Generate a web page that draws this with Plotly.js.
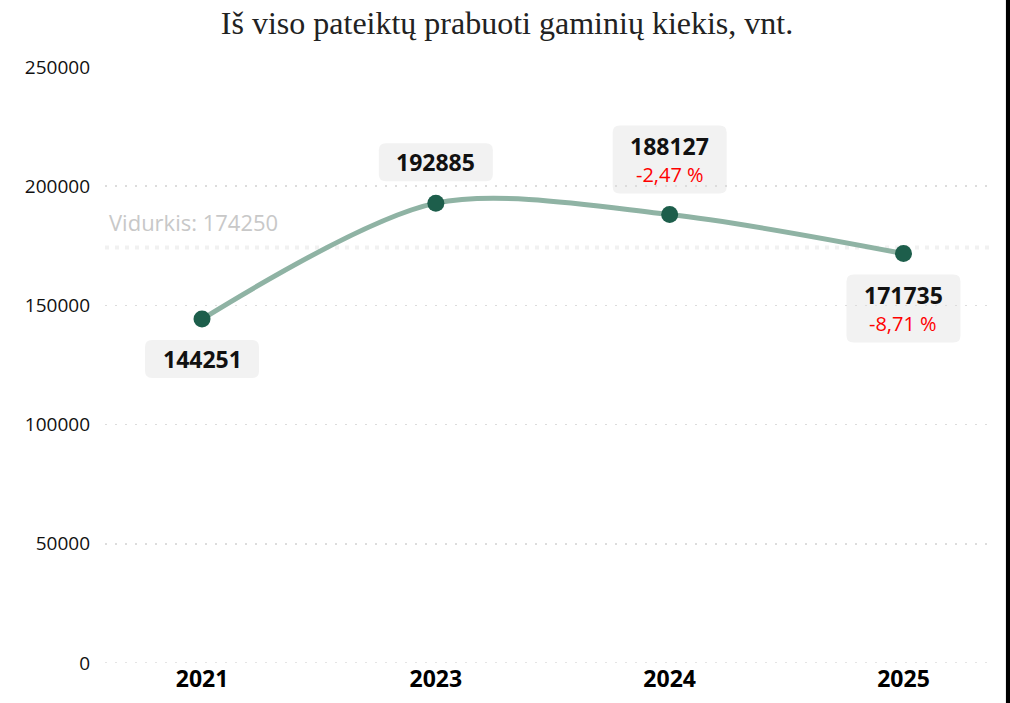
<!DOCTYPE html>
<html>
<head>
<meta charset="utf-8">
<script src="https://cdn.plot.ly/plotly-3.0.1.min.js"></script>
<style>html,body{margin:0;padding:0;background:#fff;}#chart{width:1010px;height:703px;}</style>
</head>
<body>
<div id="chart"></div>
<script>
const categories = ['2021', '2023', '2024', '2025'];
const values = [144251, 192885, 188127, 171735];
const changes = [null, null, '-2,47 %', '-8,71 %'];
const labelBelow = [true, false, false, true];
const averageValue = 174250;
const averageLabel = 'Vidurkis: 174250';
const titleText = 'Iš viso pateiktų prabuoti gaminių kiekis, vnt.';
const yTicks = [0, 50000, 100000, 150000, 200000, 250000];

const FONT = 'Open Sans, Noto Sans, sans-serif';
const xIdx = categories.map((c, i) => i);

const traces = [{
  x: xIdx, y: values, type: 'scatter', mode: 'lines',
  line: {shape: 'spline', smoothing: 0.85, color: '#8fb3a4', width: 5},
  hoverinfo: 'skip', showlegend: false
}, {
  x: xIdx, y: values, type: 'scatter', mode: 'markers',
  marker: {size: 17, color: '#1d5e4b'},
  showlegend: false
}];

function roundRect(x0, y0, x1, y1, r) {
  return `M${x0 + r},${y0} L${x1 - r},${y0} Q${x1},${y0} ${x1},${y0 + r} L${x1},${y1 - r} Q${x1},${y1} ${x1 - r},${y1} L${x0 + r},${y1} Q${x0},${y1} ${x0},${y1 - r} L${x0},${y0 + r} Q${x0},${y0} ${x0 + r},${y0} Z`;
}

const shapes = [];
const annotations = [];

// zero gridline
shapes.push({type: 'line', xref: 'paper', x0: 0, x1: 1, yref: 'y', y0: 0, y1: 0,
  line: {color: '#dcdcdc', width: 1.5, dash: '2px,8px'}, layer: 'below'});
// average line
shapes.push({type: 'line', xref: 'paper', x0: 0, x1: 1, yref: 'y', y0: averageValue, y1: averageValue,
  line: {color: '#f1f1f1', width: 4, dash: '4px,6px'}, layer: 'below'});
annotations.push({xref: 'paper', x: 0.002, yref: 'y', y: averageValue, xanchor: 'left', yanchor: 'bottom',
  yshift: 9, text: averageLabel, showarrow: false, font: {family: FONT, size: 22, color: '#c8c8c8'}});

values.forEach((v, i) => {
  const two = changes[i] !== null;
  const h = two ? 68 : 38;
  const w = 114;
  const off = labelBelow[i] ? -(two ? 55 : 40) : (two ? 55 : 41);
  const cy = off;
  shapes.push({type: 'path', xref: 'x', yref: 'y', xsizemode: 'pixel', ysizemode: 'pixel',
    xanchor: i, yanchor: v,
    path: roundRect(-w / 2, cy - h / 2, w / 2, cy + h / 2, 7),
    fillcolor: '#f2f2f2', line: {width: 0}, layer: 'below'});
  if (two) {
    annotations.push({x: i, y: v, xref: 'x', yref: 'y', text: '<b>' + v + '</b>', showarrow: false,
      yshift: cy + 14, font: {family: FONT, size: 23, color: '#111'}});
    annotations.push({x: i, y: v, xref: 'x', yref: 'y', text: changes[i], showarrow: false,
      yshift: cy - 15, font: {family: FONT, size: 20, color: '#ff0000'}});
  } else {
    annotations.push({x: i, y: v, xref: 'x', yref: 'y', text: '<b>' + v + '</b>', showarrow: false,
      yshift: cy, font: {family: FONT, size: 23, color: '#111'}});
  }
});

// right black bar
shapes.push({type: 'rect', xref: 'paper', yref: 'paper', x0: 1.018, x1: 1.03, y0: -0.1, y1: 1.2,
  fillcolor: '#000', line: {width: 0}});

const layout = {
  width: 1010, height: 703,
  margin: {l: 105, r: 20, t: 67, b: 40},
  paper_bgcolor: '#fff', plot_bgcolor: '#fff',
  title: {text: titleText, x: 0.502, xanchor: 'center', y: 0.968, yanchor: 'middle',
    font: {family: 'Liberation Serif, Times New Roman, serif', size: 32, color: '#222'}},
  xaxis: {range: [-0.415, 3.37], tickvals: xIdx, ticktext: categories.map(c => '<b>' + c + '</b>'),
    showgrid: false, zeroline: false, showline: false, ticks: '',
    tickfont: {family: FONT, size: 23, color: '#000'}, fixedrange: true},
  yaxis: {range: [0, 250000], tickvals: yTicks, tickformat: 'd', showgrid: true,
    gridcolor: '#dcdcdc', griddash: '2px,8px', gridwidth: 1.5, zeroline: false, showline: false,
    ticks: '', ticklabelstandoff: 14,
    tickfont: {family: FONT, size: 19, color: '#111'}, fixedrange: true},
  shapes: shapes, annotations: annotations, hovermode: false
};

Plotly.newPlot('chart', traces, layout, {displayModeBar: false, staticPlot: true});
</script>
</body>
</html>
